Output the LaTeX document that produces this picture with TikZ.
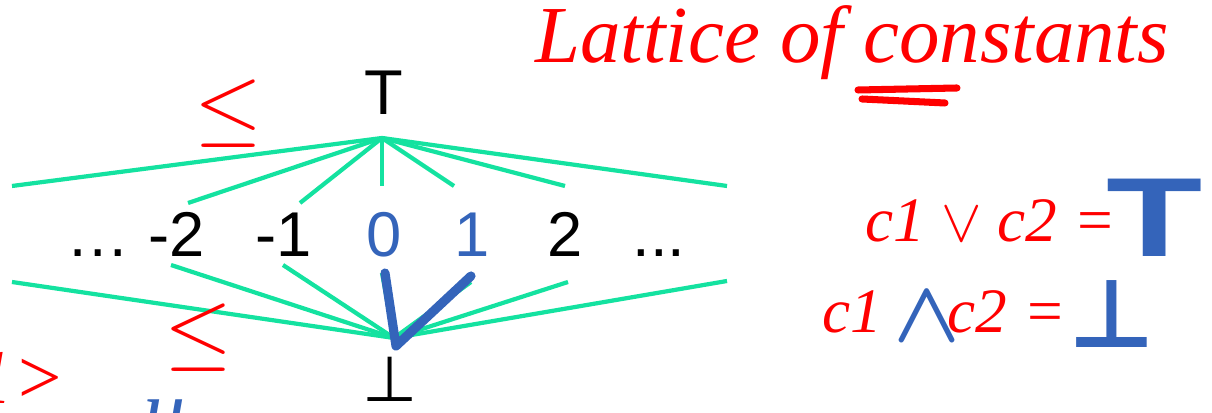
\documentclass[tikz,border=0pt]{standalone}
\usepackage{fontspec}
\setmainfont{Liberation Sans}
\newfontfamily\symfont{DejaVu Sans}
\newfontfamily\handfont{Liberation Serif}
\usetikzlibrary{positioning}
\definecolor{latgreen}{RGB}{20,226,160}
\definecolor{inkred}{RGB}{255,0,0}
\definecolor{inkblue}{RGB}{52,100,186}
\tikzset{
  elem/.style={font=\fontsize{18}{21}\selectfont,inner sep=0pt,anchor=base},
  edge/.style={latgreen,line width=1.2pt},
  redink/.style={inkred,inner sep=0pt,font=\fontsize{18}{22}\selectfont\handfont\itshape},
  blueink/.style={inkblue,inner sep=0pt,font=\fontsize{32}{36}\selectfont\bfseries},
  stroke/.style={line width=2pt,line cap=round}
}
\begin{document}
\begin{tikzpicture}[x=0.01cm,y=-0.01cm]
    \useasboundingbox (0,0) rectangle (1212,413);
    % top, elements, bottom
    \node[elem] (top) at (384,115) {T};
    \node[elem] (ldots) at (98,257) {\dots};
    \node[elem] (m2) at (177,257) {-2};
    \node[elem] (m1) at (284,257) {-1};
    \node[elem,inkblue] (z0) at (384,257) {0};
    \node[elem,inkblue] (p1) at (472,257) {1};
    \node[elem] (p2) at (565,257) {2};
    \node[elem] (rdots) at (659,257) {...};
    \node[elem,font=\fontsize{18}{21}\selectfont\symfont] (bot) at (390,402) {⊥};
    \coordinate (topjoin) at (382,138);
    \coordinate (botjoin) at (394,338);
    % lines ending above and below the row
    \coordinate (tfl) at (12,186);
    \coordinate (tm2) at (188,203);
    \coordinate (tm1) at (300,203);
    \coordinate (tz0) at (382,186);
    \coordinate (tp1) at (454,186);
    \coordinate (tp2) at (565,186);
    \coordinate (tfr) at (727,186);
    \coordinate (bfl) at (12,282);
    \coordinate (bm2) at (171,265);
    \coordinate (bm1) at (283,265);
    \coordinate (bz0) at (382,273);
    \coordinate (bp1) at (471,282);
    \coordinate (bp2) at (568,282);
    \coordinate (bfr) at (727,281);
    \draw[edge] (topjoin) -- (tfl);
    \draw[edge] (topjoin) -- (tm2);
    \draw[edge] (topjoin) -- (tm1);
    \draw[edge] (topjoin) -- (tz0);
    \draw[edge] (topjoin) -- (tp1);
    \draw[edge] (topjoin) -- (tp2);
    \draw[edge] (topjoin) -- (tfr);
    \draw[edge] (botjoin) -- (bfl);
    \draw[edge] (botjoin) -- (bm2);
    \draw[edge] (botjoin) -- (bm1);
    \draw[edge] (botjoin) -- (bz0);
    \draw[edge] (botjoin) -- (bp1);
    \draw[edge] (botjoin) -- (bp2);
    \draw[edge] (botjoin) -- (bfr);
    % blue tick between 0 and 1
    \coordinate (vtip) at (396,346);
    \coordinate (vleft) at (385,273);
    \coordinate (vright) at (471,276);
    \draw[inkblue,line width=2.6pt,line cap=round,line join=round]
        (vleft) -- (vtip) -- (vright);
    % red notes
    \node[redink,font=\fontsize{24}{28}\selectfont] (le1) at (229,114) {$\leq$};
    \node[redink,font=\fontsize{26}{30}\selectfont] (le2) at (199,338) {$\leq$};
    \node[redink,font=\fontsize{22}{26}\selectfont\handfont\itshape] (brk) at (20,378) {1>};
    \node[blueink,font=\fontsize{24}{28}\selectfont\handfont\itshape] (cut) at (165,420) {u};
    \node[redink,font=\fontsize{23}{27}\selectfont\handfont\itshape,anchor=base] (title) at (852,63) {Lattice of constants};
    \draw[inkred,stroke] (858,90) -- (957,88);
    \draw[inkred,stroke] (862,99) -- (945,103);
    % join and meet
    \node[redink,anchor=base west] (joinl) at (865,242) {c1 $\vee$ c2 =};
    \node[blueink,anchor=base west] (joinv) at (1106,257) {\scalebox{1.4}[1]{T}};
    \node[redink,anchor=base west] (meetl) at (822,333) {c1};
    \node[blueink,anchor=base west,font=\fontsize{30}{34}\selectfont\boldmath] (meeto) at (893,342) {$\wedge$};
    \node[redink,anchor=base west] (meetr) at (947,333) {c2 =};
    \node[blueink,anchor=base west,font=\fontsize{27}{32}\selectfont\symfont\bfseries] (meetv) at (1068,348) {⊥};
\end{tikzpicture}
\end{document}
